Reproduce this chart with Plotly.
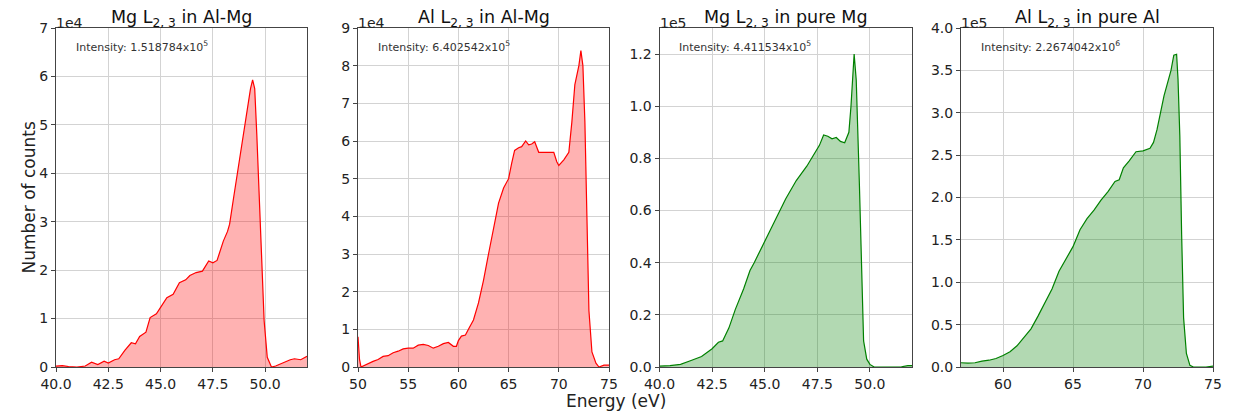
import plotly.graph_objects as go

# ---------------- data ----------------
titles = ["Mg L<sub>2, 3</sub> in Al-Mg", "Al L<sub>2, 3</sub> in Al-Mg",
          "Mg L<sub>2, 3</sub> in pure Mg", "Al L<sub>2, 3</sub> in pure Al"]
intensity_labels = ["Intensity: 1.518784x10<sup>5</sup>", "Intensity: 6.402542x10<sup>5</sup>",
                    "Intensity: 4.411534x10<sup>5</sup>", "Intensity: 2.2674042x10<sup>6</sup>"]
offset_labels = ["1e4", "1e4", "1e5", "1e5"]

mg_almg_e = [40.0, 40.3, 40.6, 41.0, 41.4, 41.7, 42.0, 42.3, 42.5, 42.8, 43.0, 43.3, 43.6, 43.8,
             44.0, 44.3, 44.5, 44.8, 45.0, 45.3, 45.6, 45.9, 46.2, 46.4, 46.7, 47.0, 47.3, 47.5,
             47.7, 48.0, 48.2, 48.3, 48.5, 48.65, 48.8, 48.95, 49.1, 49.2, 49.3, 49.4, 49.5, 49.6,
             49.7, 49.8, 49.95, 50.1, 50.3, 50.5, 50.8, 51.2, 51.4, 51.7, 52.0]
mg_almg_c = [200, 300, 100, 0, 200, 1000, 500, 1200, 800, 1500, 1700, 3500, 5000, 4800,
             6300, 7200, 10200, 11000, 12300, 14300, 15000, 17400, 18000, 18900, 19500, 19800, 21900, 21500,
             22000, 26000, 28000, 29500, 35200, 39500, 43500, 47500, 51500, 54800, 57500, 59300, 57500, 48000,
             38000, 27000, 9600, 2000, 0, 200, 800, 1500, 1700, 1500, 2200]

al_almg_e = [50.0, 50.15, 50.3, 50.7, 51.0, 51.5, 52.0, 52.5, 53.0, 53.5, 54.0, 54.5, 55.0, 55.5,
             56.0, 56.5, 57.0, 57.5, 58.0, 58.5, 59.0, 59.5, 59.8, 60.0, 60.3, 60.7, 61.0, 61.5,
             62.0, 62.5, 63.0, 63.5, 64.0, 64.5, 65.0, 65.3, 65.6, 66.0, 66.3, 66.7, 67.0, 67.3,
             67.6, 68.0, 68.5, 69.0, 69.5, 69.8, 70.0, 70.5, 71.0, 71.3, 71.6, 72.0, 72.2, 72.4,
             72.6, 72.8, 73.0, 73.3, 73.7, 74.0, 74.5, 75.0]
al_almg_c = [8000, 2000, 0, 500, 1000, 1500, 2000, 2800, 3000, 3800, 4200, 4800, 5000, 5000,
             5800, 6000, 5700, 5000, 5500, 6200, 6500, 5500, 5500, 7000, 8200, 8500, 10000, 12500,
             17000, 23000, 30000, 37000, 43500, 47500, 50000, 54000, 57500, 58200, 58500, 60000, 59000, 59200,
             59800, 57000, 57000, 57000, 57000, 54500, 53500, 55000, 57000, 65000, 75000, 80000, 84000, 80000,
             65000, 40000, 15000, 4000, 1000, 0, 500, 500]

mg_pure_e = [40.0, 40.5, 41.0, 41.3, 41.5, 42.0, 42.5, 42.8, 43.0, 43.3, 43.6, 44.0, 44.3, 44.5,
             45.0, 45.5, 46.0, 46.5, 47.0, 47.3, 47.6, 47.8, 48.0, 48.2, 48.4, 48.6, 48.8, 49.0,
             49.1, 49.25, 49.35, 49.5, 49.6, 49.7, 49.85, 50.0, 50.2, 51.0, 51.5, 51.8, 52.0]
mg_pure_c = [300, 500, 1000, 2000, 2500, 4000, 7000, 9500, 10000, 15000, 22000, 30000, 37000, 40000,
             48000, 56500, 64500, 71500, 77000, 81000, 85000, 89000, 88500, 87500, 88000, 86500, 86000, 90000,
             100000, 120000, 110000, 70000, 35000, 10000, 3000, 1000, 0, 0, 100, 500, 500]

al_pure_e = [57.0, 57.5, 58.0, 58.5, 59.0, 59.5, 60.0, 60.5, 61.0, 61.5, 62.0, 62.5, 63.0, 63.5,
             64.0, 64.5, 65.0, 65.5, 65.8, 66.0, 66.5, 67.0, 67.5, 68.0, 68.3, 68.6, 69.0, 69.5,
             70.0, 70.5, 70.75, 71.0, 71.5, 72.0, 72.2, 72.4, 72.5, 72.63, 72.76, 72.9, 73.1, 73.35,
             73.6, 74.5, 75.0]
al_pure_c = [5000, 4500, 5000, 7000, 8000, 10000, 13500, 18000, 25000, 35000, 45000, 60000, 76000, 92000,
             113000, 127000, 142000, 162000, 170000, 175000, 185000, 197000, 207000, 219000, 221000, 235000, 243000, 254000,
             255000, 258000, 265000, 280000, 320000, 350000, 368000, 369000, 340000, 273000, 156000, 58000, 16000, 2000,
             0, 0, 1000]

energies = [mg_almg_e, al_almg_e, mg_pure_e, al_pure_e]
counts = [mg_almg_c, al_almg_c, mg_pure_c, al_pure_c]

x_ranges = [[40, 52], [50, 75], [40, 52], [57, 75]]
y_ranges = [[0, 70000], [0, 90000], [0, 130000], [0, 400000]]
x_tickvals = [[40, 42.5, 45, 47.5, 50], [50, 55, 60, 65, 70, 75],
              [40, 42.5, 45, 47.5, 50], [60, 65, 70, 75]]
x_ticktext = [["40.0", "42.5", "45.0", "47.5", "50.0"], ["50", "55", "60", "65", "70", "75"],
              ["40.0", "42.5", "45.0", "47.5", "50.0"], ["60", "65", "70", "75"]]
y_tickvals = [[0, 10000, 20000, 30000, 40000, 50000, 60000, 70000],
              [0, 10000, 20000, 30000, 40000, 50000, 60000, 70000, 80000, 90000],
              [0, 20000, 40000, 60000, 80000, 100000, 120000],
              [0, 50000, 100000, 150000, 200000, 250000, 300000, 350000, 400000]]
y_ticktext = [["0", "1", "2", "3", "4", "5", "6", "7"],
              ["0", "1", "2", "3", "4", "5", "6", "7", "8", "9"],
              ["0.0", "0.2", "0.4", "0.6", "0.8", "1.0", "1.2"],
              ["0.0", "0.5", "1.0", "1.5", "2.0", "2.5", "3.0", "3.5", "4.0"]]

line_colors = ["#ff0000", "#ff0000", "#008000", "#008000"]
fill_colors = ["rgba(255,0,0,0.3)", "rgba(255,0,0,0.3)", "rgba(0,128,0,0.3)", "rgba(0,128,0,0.3)"]

# ---------------- layout ----------------
OFF = 8  # page body margin
W, H = 1238 - OFF, 415 - OFF
ML, MT = 56 - OFF, 25 - OFF
MR = W - (1213 - OFF)
MB = H - (367 - OFF)
domains_px = [(56, 307), (358, 609), (659.5, 912), (961, 1213)]
pw = W - ML - MR
ph = H - MT - MB
domains = [[(a - OFF - ML) / pw, (b - OFF - ML) / pw] for a, b in domains_px]

def px_x(x):
    return (x - OFF - ML) / pw

def px_y(y):
    return (367 - y) / ph

fig = go.Figure()
FONT = "DejaVu Sans, Arial, sans-serif"
layout = dict(
    width=W, height=H,
    margin=dict(l=ML, r=MR, t=MT, b=MB),
    paper_bgcolor="white", plot_bgcolor="white",
    showlegend=False,
    font=dict(family=FONT, color="#222222", size=14),
)
annotations = []
for i in range(4):
    n = "" if i == 0 else str(i + 1)
    xa = "x" + n
    ya = "y" + n
    fig.add_trace(go.Scatter(
        x=energies[i], y=counts[i], mode="lines", xaxis=xa, yaxis=ya,
        line=dict(color=line_colors[i], width=1.2),
        fill="tozeroy", fillcolor=fill_colors[i], hoverinfo="skip"))
    common = dict(showline=True, mirror=True, linecolor="#444444", linewidth=1,
                  ticks="outside", ticklen=4, tickcolor="#444444",
                  showgrid=True, gridcolor="#d3d3d3", gridwidth=1,
                  zeroline=False, tickfont=dict(size=14, family=FONT, color="#222222"))
    layout["xaxis" + n] = dict(domain=domains[i], range=x_ranges[i], anchor=ya,
                               tickmode="array", tickvals=x_tickvals[i], ticktext=x_ticktext[i],
                               **common)
    layout["yaxis" + n] = dict(domain=[0, 1], range=y_ranges[i], anchor=xa,
                               tickmode="array", tickvals=y_tickvals[i], ticktext=y_ticktext[i],
                               **common)
    cx = (domains[i][0] + domains[i][1]) / 2
    annotations.append(dict(text=titles[i], x=cx, y=1, xref="paper", yref="paper",
                            xanchor="center", yanchor="bottom", yshift=-4, showarrow=False,
                            font=dict(size=17.5, family=FONT, color="#111111")))
    annotations.append(dict(text=offset_labels[i], x=domains[i][0], y=1, xref="paper", yref="paper",
                            xanchor="left", yanchor="bottom", yshift=-5, xshift=-2, showarrow=False,
                            font=dict(size=14, family=FONT, color="#222222")))
    annotations.append(dict(text=intensity_labels[i], x=0.07, y=0.945,
                            xref=xa + " domain", yref=ya + " domain",
                            xanchor="left", yanchor="middle", showarrow=False,
                            font=dict(size=11, family=FONT, color="#333333")))

annotations.append(dict(text="Number of counts", x=px_x(28), y=px_y(196), xref="paper", yref="paper",
                        xanchor="center", yanchor="middle",
                        showarrow=False, textangle=-90, font=dict(size=17, family=FONT, color="#222222")))
annotations.append(dict(text="Energy (eV)", x=px_x(615.5), y=px_y(401),
                        xref="paper", yref="paper", xanchor="center", yanchor="middle",
                        showarrow=False, font=dict(size=17, family=FONT, color="#222222")))
layout["annotations"] = annotations
fig.update_layout(**layout)
fig.write_html("out.html")
